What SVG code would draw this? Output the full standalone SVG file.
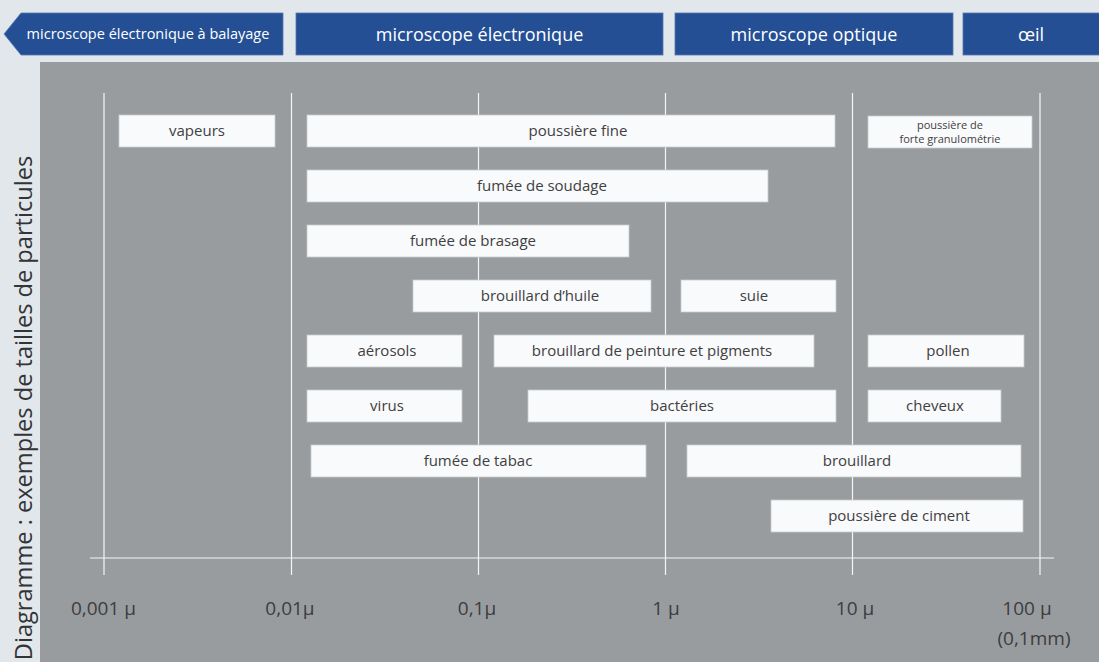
<svg xmlns="http://www.w3.org/2000/svg" width="1099" height="662" viewBox="0 0 1099 662">
<style>
.bn{fill:#254f95;stroke:#5577b0;stroke-width:0.8}
.bt{font-family:"Open Sans","Liberation Sans",sans-serif;fill:#ffffff;text-anchor:middle}
.bx{fill:#f9fafc;stroke:#c9ccce;stroke-width:0.8}
.tx{font-family:"Open Sans","Liberation Sans",sans-serif;font-size:15px;fill:#3f4040;text-anchor:middle}
.sm{font-size:11px}
.gl{stroke:#f4f5f6;stroke-width:1.2;fill:none}
.ax{font-family:"Open Sans","Liberation Sans",sans-serif;font-size:19px;fill:#3c3d3e;text-anchor:middle}
</style>
<rect x="0" y="0" width="1099" height="662" fill="#e1e7eb"/>
<rect x="40" y="62" width="1059" height="600" fill="#999c9f"/>

<g id="banner-meb">
<path class="bn" d="M21 13 H283 V55 H21 L4 34 Z"/>
<text class="bt" x="148" y="39" font-size="14.5">microscope électronique à balayage</text>
</g>
<g id="banner-me">
<rect class="bn" x="296" y="13" width="367" height="42"/>
<text class="bt" x="479.5" y="41" font-size="18">microscope électronique</text>
</g>
<g id="banner-mo">
<rect class="bn" x="675" y="13" width="278" height="42"/>
<text class="bt" x="814" y="41" font-size="18">microscope optique</text>
</g>
<g id="banner-oeil">
<rect class="bn" x="963" y="13" width="140" height="42"/>
<text class="bt" x="1031" y="41" font-size="18">œil</text>
</g>

<g id="axes">
<line class="gl" x1="104" y1="93" x2="104" y2="575"/>
<line class="gl" x1="291.5" y1="93" x2="291.5" y2="575"/>
<line class="gl" x1="478.5" y1="93" x2="478.5" y2="575"/>
<line class="gl" x1="665.5" y1="93" x2="665.5" y2="575"/>
<line class="gl" x1="852.5" y1="93" x2="852.5" y2="575"/>
<line class="gl" x1="1040" y1="93" x2="1040" y2="575"/>
<line class="gl" x1="90" y1="558" x2="1054" y2="558"/>
<text class="ax" x="103.5" y="615">0,001 µ</text>
<text class="ax" x="290" y="615">0,01µ</text>
<text class="ax" x="477" y="615">0,1µ</text>
<text class="ax" x="666" y="615">1 µ</text>
<text class="ax" x="855" y="615">10 µ</text>
<text class="ax" x="1027" y="615">100 µ</text>
<text class="ax" x="1034" y="645">(0,1mm)</text>
</g>

<text x="32" y="408" transform="rotate(-90 32 408)" font-family="'Open Sans','Liberation Sans',sans-serif" font-size="23.6" fill="#333435" text-anchor="middle">Diagramme : exemples de tailles de particules</text>

<g id="vapeurs"><rect class="bx" x="119" y="115" width="156" height="32"/><text class="tx" x="197" y="136">vapeurs</text></g>
<g id="poussiere-fine"><rect class="bx" x="307" y="115" width="528" height="32"/><text class="tx" x="578" y="136">poussière fine</text></g>
<g id="poussiere-forte"><rect class="bx" x="868" y="116" width="164" height="32"/><text class="tx sm" x="950" y="129">poussière de</text><text class="tx sm" x="950" y="143">forte granulométrie</text></g>
<g id="fumee-soudage"><rect class="bx" x="307" y="170" width="461" height="32"/><text class="tx" x="542" y="191">fumée de soudage</text></g>
<g id="fumee-brasage"><rect class="bx" x="307" y="225" width="322" height="32"/><text class="tx" x="473" y="246">fumée de brasage</text></g>
<g id="brouillard-huile"><rect class="bx" x="413" y="280" width="238" height="32"/><text class="tx" x="540" y="301">brouillard d’huile</text></g>
<g id="suie"><rect class="bx" x="681" y="280" width="155" height="32"/><text class="tx" x="754" y="301">suie</text></g>
<g id="aerosols"><rect class="bx" x="307" y="335" width="155" height="32"/><text class="tx" x="387" y="356">aérosols</text></g>
<g id="brouillard-peinture"><rect class="bx" x="494" y="335" width="320" height="32"/><text class="tx" x="652" y="356">brouillard de peinture et pigments</text></g>
<g id="pollen"><rect class="bx" x="868" y="335" width="156" height="32"/><text class="tx" x="948" y="356">pollen</text></g>
<g id="virus"><rect class="bx" x="307" y="390" width="155" height="32"/><text class="tx" x="387" y="411">virus</text></g>
<g id="bacteries"><rect class="bx" x="528" y="390" width="308" height="32"/><text class="tx" x="682" y="411">bactéries</text></g>
<g id="cheveux"><rect class="bx" x="868" y="390" width="133" height="32"/><text class="tx" x="935" y="411">cheveux</text></g>
<g id="fumee-tabac"><rect class="bx" x="311" y="445" width="335" height="32"/><text class="tx" x="478" y="466">fumée de tabac</text></g>
<g id="brouillard"><rect class="bx" x="687" y="445" width="334" height="32"/><text class="tx" x="857" y="466">brouillard</text></g>
<g id="poussiere-ciment"><rect class="bx" x="771" y="500" width="252" height="32"/><text class="tx" x="899" y="521">poussière de ciment</text></g>
</svg>
